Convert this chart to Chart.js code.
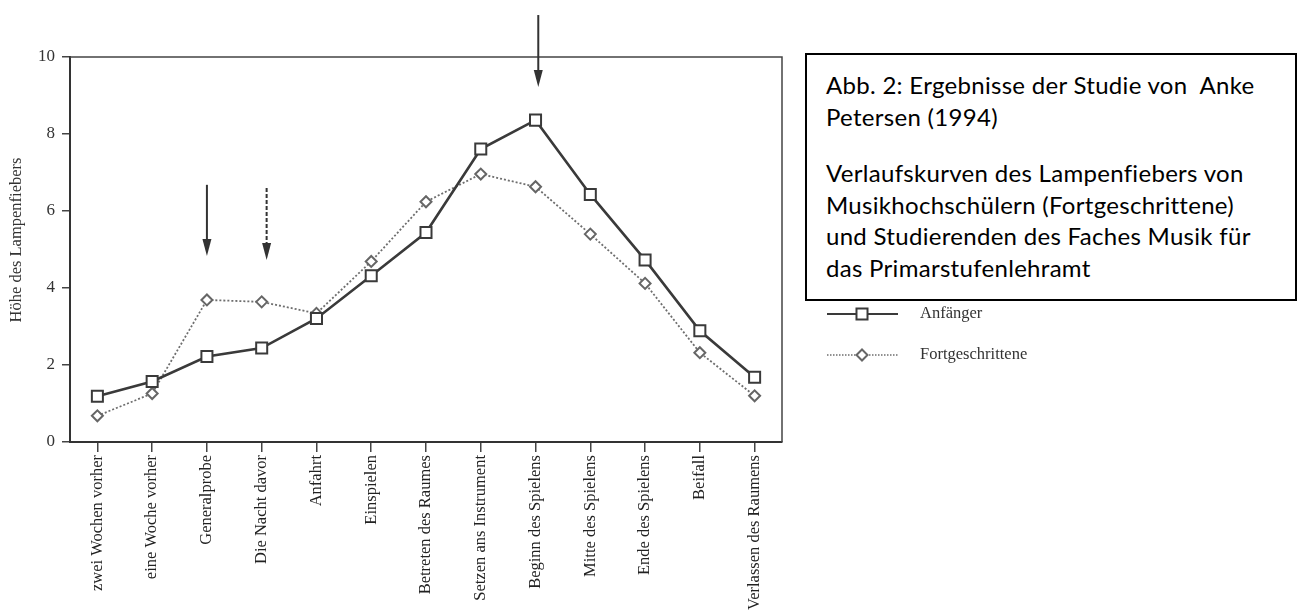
<!DOCTYPE html>
<html><head><meta charset="utf-8">
<script src="https://cdn.jsdelivr.net/npm/chart.js@4/dist/chart.umd.min.js"></script>
<style>
html,body{margin:0;padding:0;background:#fff;}
#wrap{position:relative;width:1301px;height:611px;overflow:hidden;background:#fff;}
#c{position:absolute;left:0;top:0;}
#box{position:absolute;left:805px;top:53px;width:492px;height:248px;border:2px solid #000;box-sizing:border-box;
 font-family:Lato,"Open Sans",sans-serif;font-size:24px;letter-spacing:0.3px;line-height:31.7px;color:#000;padding:14px 0 0 19px;background:#fff;white-space:nowrap;}
#box p{margin:0;}
</style></head>
<body><div id="wrap"><canvas id="c" width="1301" height="611"></canvas>
<div id="box"><p>Abb. 2: Ergebnisse der Studie von&nbsp; Anke<br>Petersen (1994)</p><p style="margin-top:24.6px">Verlaufskurven des Lampenfiebers von<br>Musikhochschülern (Fortgeschrittene)<br>und Studierenden des Faches Musik für<br>das Primarstufenlehramt</p></div>
</div>
<script>
const categories = ["zwei Wochen vorher","eine Woche vorher","Generalprobe","Die Nacht davor","Anfahrt","Einspielen","Betreten des Raumes","Setzen ans Instrument","Beginn des Spielens","Mitte des Spielens","Ende des Spielens","Beifall","Verlassen des Raumens"];
const anfaenger = [1.19,1.57,2.22,2.44,3.21,4.32,5.44,7.61,8.36,6.43,4.73,2.89,1.68];
const fortgeschrittene = [0.68,1.26,3.69,3.64,3.34,4.69,6.24,6.96,6.63,5.40,4.12,2.32,1.20];
const yTicks = [0,2,4,6,8,10];
const seriesNames = ["Anfänger","Fortgeschrittene"];
const yTitle = "Höhe des Lampenfiebers";
// arrows: category position (fractional), start value, tip value, dashed
const arrowPos = [2.0, 3.09, 8.05];
const arrowFrom = [6.68, 6.60, 11.09];
const arrowTo = [4.83, 4.73, 9.22];
const arrowDashed = [false, true, false];

const lineDark = '#3a3a3a';
const lineGray = '#6e6e6e';

const framePlugin = {
  id:'frame',
  afterDatasetsDraw(chart){
    const {ctx, chartArea:a, scales:{x,y}} = chart;
    ctx.save();
    ctx.strokeStyle = '#444'; ctx.lineWidth = 1.5;
    ctx.beginPath(); ctx.moveTo(a.left, a.top); ctx.lineTo(a.right, a.top); ctx.lineTo(a.right, a.bottom); ctx.stroke();
    for (let i=0;i<arrowPos.length;i++){
      const i0 = Math.floor(arrowPos[i]);
      const f = arrowPos[i]-i0;
      const px = x.getPixelForValue(i0) + f*(x.getPixelForValue(1)-x.getPixelForValue(0));
      const y0 = y.getPixelForValue(arrowFrom[i]);
      const y1 = y.getPixelForValue(arrowTo[i]);
      const head = 17;
      ctx.strokeStyle = '#333'; ctx.fillStyle = '#333'; ctx.lineWidth = 2;
      ctx.setLineDash(arrowDashed[i] ? [4,2] : []);
      ctx.beginPath(); ctx.moveTo(px, y0); ctx.lineTo(px, y1-head+2); ctx.stroke();
      ctx.setLineDash([]);
      ctx.beginPath(); ctx.moveTo(px-4.5, y1-head); ctx.lineTo(px+4.5, y1-head); ctx.lineTo(px, y1); ctx.closePath(); ctx.fill();
    }
    // y axis title
    ctx.save();
    ctx.translate(17, 240);
    ctx.rotate(-Math.PI/2);
    ctx.fillStyle = '#333';
    ctx.font = '16.5px "Liberation Serif"';
    ctx.textAlign = 'center'; ctx.textBaseline = 'middle';
    ctx.fillText(yTitle, 0, 0);
    ctx.restore();
    ctx.restore();
  },
  afterDraw(chart){
    const ctx = chart.ctx;
    const ds = chart.data.datasets;
    const rows = [314, 355];
    ctx.save();
    for (let i=0;i<2;i++){
      const d = ds[i]; const yy = rows[i];
      ctx.strokeStyle = d.borderColor; ctx.lineWidth = i===0?1.8:1.4;
      ctx.setLineDash(i===0?[]:[1.5,1.5]);
      ctx.beginPath(); ctx.moveTo(827, yy); ctx.lineTo(898, yy); ctx.stroke();
      ctx.setLineDash([]);
      ctx.fillStyle = '#fff'; ctx.strokeStyle = d.pointBorderColor; ctx.lineWidth = 2;
      Chart.helpers.drawPoint(ctx, {pointStyle:d.pointStyle, rotation:0, borderWidth:2, radius: i===0?7.8:5.5}, 862, yy);
      ctx.fillStyle = '#333';
      ctx.font = '16.5px "Liberation Serif"';
      ctx.textBaseline = 'middle';
      ctx.fillText(seriesNames[i], 920, yy);
    }
    ctx.restore();
  }
};

new Chart(document.getElementById('c'), {
  type:'line',
  data:{
    labels: categories,
    datasets:[
      {label:seriesNames[0], data:anfaenger, borderColor:lineDark, borderWidth:2.6, tension:0,
       pointStyle:'rect', pointRadius:7.8, pointBorderWidth:2, pointBackgroundColor:'#fff', pointBorderColor:lineDark},
      {label:seriesNames[1], data:fortgeschrittene, borderColor:lineGray, borderWidth:1.8, borderDash:[2,2], tension:0,
       pointStyle:'rectRot', pointRadius:5.5, pointBorderWidth:2, pointBackgroundColor:'#fff', pointBorderColor:'#666'}
    ]
  },
  options:{
    responsive:false, animation:false, devicePixelRatio:1,
    layout:{padding:{left:0, top:57, right:519, bottom:0}},
    plugins:{legend:{display:false}, tooltip:{enabled:false}},
    scales:{
      x:{type:'category', offset:true,
        grid:{display:true, drawOnChartArea:false, drawTicks:true, tickLength:10, color:'#444', lineWidth:1.5},
        border:{display:true, color:'#333', width:2},
        ticks:{minRotation:90, maxRotation:90, autoSkip:false, padding:3, color:'#222', font:{family:'"Liberation Serif"', size:16.5}},
        afterFit(s){ s.height = 611-442; }
      },
      y:{min:0, max:10,
        afterBuildTicks(s){ s.ticks = yTicks.map(v=>({value:v})); },
        grid:{display:true, drawOnChartArea:false, drawTicks:true, tickLength:8, color:'#444', lineWidth:1.5},
        border:{display:true, color:'#333', width:2},
        ticks:{padding:7, color:'#333', font:{family:'"Liberation Serif"', size:17}},
        title:{display:false},
        afterFit(s){ s.width = 70; }
      }
    }
  },
  plugins:[framePlugin]
});
</script>
</body></html>
